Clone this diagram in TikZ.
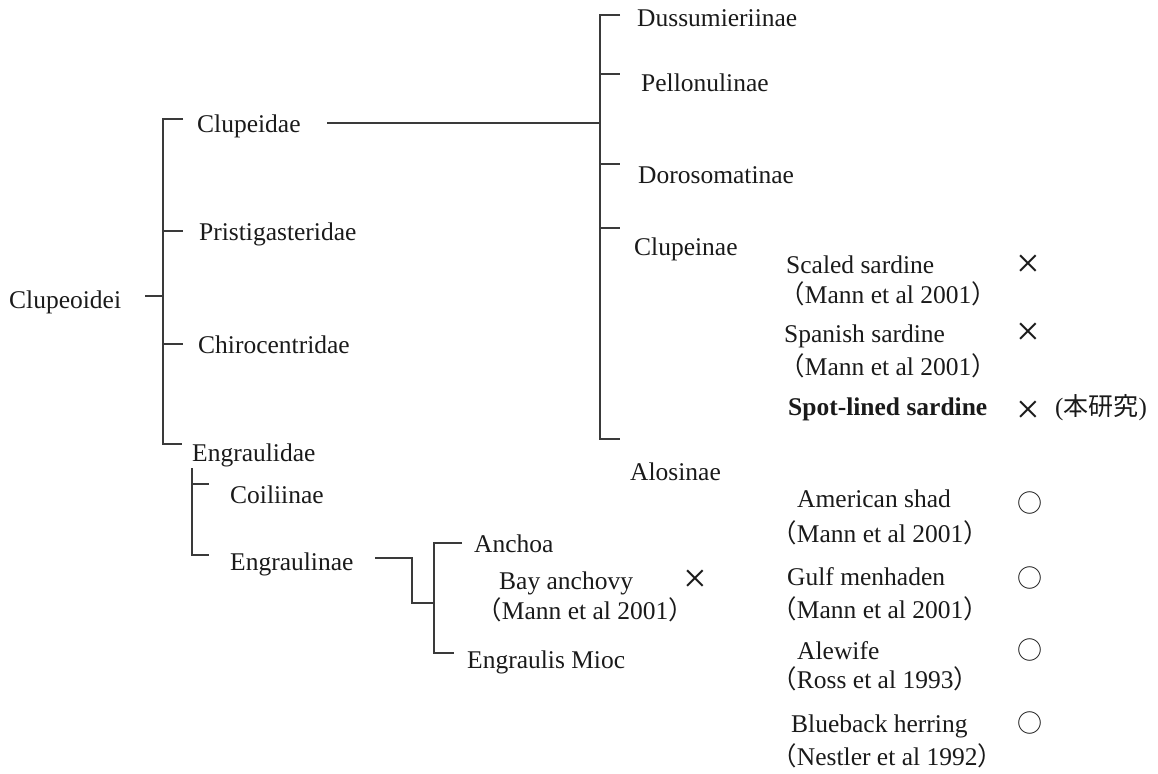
\documentclass[tikz,border=0pt]{standalone}
\usepackage{fontspec}
\setmainfont{Liberation Serif}
\newfontfamily\cjk{Noto Sans CJK JP}
\newcommand{\lpar}{\makebox[0.5em][r]{\cjk （}}
\newcommand{\rpar}{\makebox[0.5em][l]{\cjk ）}}
\definecolor{ink}{HTML}{1A1A1A}
\definecolor{linec}{HTML}{3A3A3A}
\begin{document}
\begin{tikzpicture}[x=1pt,y=-1pt,
  lbl/.style={anchor=base west,inner sep=0pt,text=ink,font=\fontsize{25.5}{30}\selectfont},
  mk/.style={anchor=center,inner sep=0pt,text=ink,font=\fontsize{42}{44}\selectfont},
  ok/.style={anchor=center,inner sep=0pt,text=ink,font=\cjk\fontsize{25}{30}\selectfont},
  br/.style={line width=1.4pt,draw=linec}]
\useasboundingbox (0,0) rectangle (1158,773);

% ---- labels, left tree
\node[lbl] (clupeoidei) at (9,308) {Clupeoidei};
\node[lbl] (clupeidae) at (197,132) {Clupeidae};
\node[lbl] (pristi) at (199,240) {Pristigasteridae};
\node[lbl] (chiro) at (198,353) {Chirocentridae};
\node[lbl] (engraulidae) at (192,461) {Engraulidae};
\node[lbl] (coili) at (230,503) {Coiliinae};
\node[lbl] (engraulinae) at (230,570) {Engraulinae};
\node[lbl] (anchoa) at (474,552) {Anchoa};
\node[lbl] (bay) at (499,589) {Bay anchovy};
\node[lbl] (bayref) at (489,619) {\lpar Mann et al 2001\rpar};
\node[mk] (baymk) at (695,581) {×};
\node[lbl] (engraulis) at (467,668) {Engraulis Mioc};

% ---- Clupeidae subfamilies
\node[lbl] (duss) at (637,27) {Dussumieriinae};
\node[lbl] (pello) at (641,92) {Pellonulinae};
\node[lbl] (doro) at (638,183) {Dorosomatinae};
\node[lbl] (clupeinae) at (634,255) {Clupeinae};
\node[lbl] (alosinae) at (630,480) {Alosinae};

% ---- right column, Clupeinae species
\node[lbl] (scaled) at (786,273) {Scaled sardine};
\node[lbl] (scaledref) at (792,303) {\lpar Mann et al 2001\rpar};
\node[mk] (scaledmk) at (1028,266) {×};
\node[lbl] (spanish) at (784,342) {Spanish sardine};
\node[lbl] (spanishref) at (792,375) {\lpar Mann et al 2001\rpar};
\node[mk] (spanishmk) at (1028,334) {×};
\node[lbl,font=\bfseries\fontsize{25.5}{30}\selectfont] (spot) at (788,415) {Spot-lined sardine};
\node[mk] (spotmk) at (1028,412) {×};
\node[lbl,font=\fontsize{25}{30}\selectfont] (spotref) at (1055,415) {({\cjk 本研究})};

% ---- right column, Alosinae species
\node[lbl] (shad) at (797,507) {American shad};
\node[lbl] (shadref) at (784,542) {\lpar Mann et al 2001\rpar};
\node[ok] (shadok) at (1030,503) {○};
\node[lbl] (gulf) at (787,585) {Gulf menhaden};
\node[lbl] (gulfref) at (784,618) {\lpar Mann et al 2001\rpar};
\node[ok] (gulfok) at (1030,578) {○};
\node[lbl] (ale) at (797,659) {Alewife};
\node[lbl] (aleref) at (784,688) {\lpar Ross et al 1993\rpar};
\node[ok] (aleok) at (1030,650) {○};
\node[lbl] (blue) at (791,732) {Blueback herring};
\node[lbl] (blueref) at (784,765) {\lpar Nestler et al 1992\rpar};
\node[ok] (blueok) at (1030,723) {○};

% ---- tree coordinates
\coordinate (r0) at (145,296);
\coordinate (r1) at (163,296);
\coordinate (rt) at (163,119);
\coordinate (rb) at (163,444);
\coordinate (t1) at (183,119);
\coordinate (p0) at (163,231);
\coordinate (p1) at (183,231);
\coordinate (c0) at (163,344);
\coordinate (c1) at (183,344);
\coordinate (e1) at (182,444);

\coordinate (k0) at (327,123);
\coordinate (k1) at (600,123);
\coordinate (kt) at (600,15);
\coordinate (kb) at (600,439);
\coordinate (kt1) at (620,15);
\coordinate (kp0) at (600,74);
\coordinate (kp1) at (620,74);
\coordinate (kd0) at (600,164);
\coordinate (kd1) at (620,164);
\coordinate (kc0) at (600,228);
\coordinate (kc1) at (620,228);
\coordinate (kb1) at (620,439);

\coordinate (gt) at (192,468);
\coordinate (gc0) at (192,484);
\coordinate (gc1) at (209,484);
\coordinate (gb) at (192,555);
\coordinate (gb1) at (209,555);

\coordinate (n0) at (375,558);
\coordinate (n1) at (412,558);
\coordinate (n2) at (412,603);
\coordinate (n3) at (434,603);
\coordinate (nt) at (434,543);
\coordinate (nt1) at (462,543);
\coordinate (nb) at (434,653);
\coordinate (nb1) at (454,653);

% ---- connectors
\draw[br] (r0) -- (r1);
\draw[br] (t1) -- (rt) -- (rb) -- (e1);
\draw[br] (p0) -- (p1);
\draw[br] (c0) -- (c1);

\draw[br] (k0) -- (k1);
\draw[br] (kt1) -- (kt) -- (kb) -- (kb1);
\draw[br] (kp0) -- (kp1);
\draw[br] (kd0) -- (kd1);
\draw[br] (kc0) -- (kc1);

\draw[br] (gt) -- (gb) -- (gb1);
\draw[br] (gc0) -- (gc1);

\draw[br] (n0) -- (n1) -- (n2) -- (n3);
\draw[br] (nt1) -- (nt) -- (nb) -- (nb1);
\end{tikzpicture}
\end{document}
